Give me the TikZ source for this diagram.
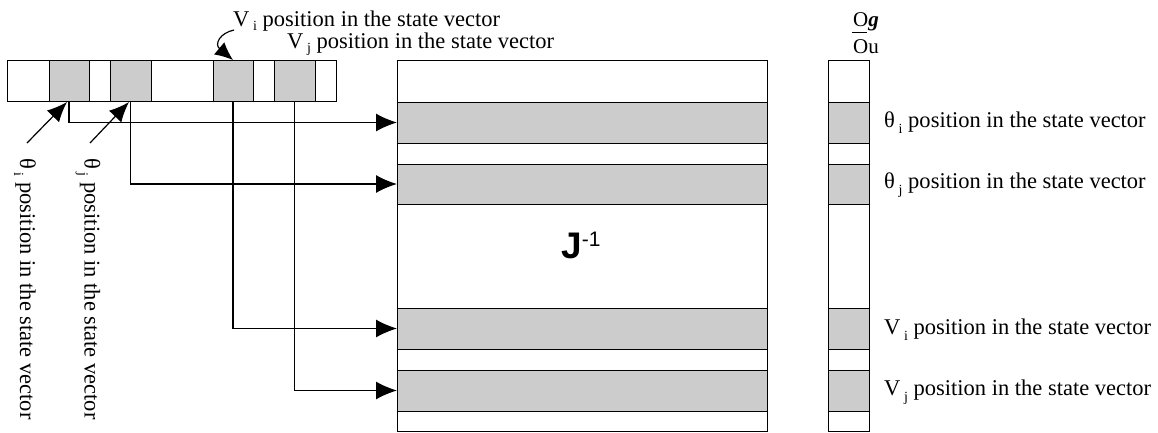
\documentclass[tikz,border=0pt]{standalone}
\usepackage{fontspec}
\setmainfont{Liberation Serif}
\newfontfamily\arialf{Liberation Sans}
\usetikzlibrary{arrows.meta}
\newcommand{\sbi}[1]{\,\raisebox{-6bp}{\fontsize{14bp}{14bp}\selectfont #1}}
\newcommand{\sbt}[1]{\,\raisebox{-4bp}{\fontsize{14bp}{14bp}\selectfont #1}}
\begin{document}
\begin{tikzpicture}[x=1bp,y=-1bp,
  box/.style={draw=black, line width=1bp, fill=white, inner sep=0pt, outer sep=0pt, anchor=north west},
  gbox/.style={box, fill=black!20},
  lab/.style={inner sep=0pt, font=\fontsize{22.5bp}{24bp}\selectfont},
  arr/.style={line width=1.2bp, -{Latex[length=21bp,width=18bp]}},
  arrs/.style={line width=1.2bp, -{Latex[length=20bp,width=17bp]}}]
\useasboundingbox (0,0) rectangle (1158,432);
% top state vector
\node[box, minimum width=329bp, minimum height=41bp] (vec) at (7,60) {};
\node[gbox, minimum width=40bp, minimum height=41bp] (c1) at (49,60) {};
\node[gbox, minimum width=41bp, minimum height=41bp] (c2) at (110,60) {};
\node[gbox, minimum width=40bp, minimum height=41bp] (c3) at (213,60) {};
\node[gbox, minimum width=41bp, minimum height=41bp] (c4) at (274,60) {};
% J^-1 matrix
\node[box, minimum width=370bp, minimum height=371bp] (J) at (397,60) {};
\node[gbox, minimum width=370bp, minimum height=41bp] (b1) at (397,102) {};
\node[gbox, minimum width=370bp, minimum height=40bp] (b2) at (397,164) {};
\node[gbox, minimum width=370bp, minimum height=41bp] (b3) at (397,308) {};
\node[gbox, minimum width=370bp, minimum height=41bp] (b4) at (397,370) {};
\node[inner sep=0pt] (jl) at (581,245) {\arialf\fontsize{37bp}{40bp}\selectfont\bfseries J{\mdseries\fontsize{21bp}{21bp}\selectfont\raisebox{12bp}{-1}}};
% dg/du vector
\node[box, minimum width=41bp, minimum height=371bp] (G) at (828,60) {};
\node[gbox, minimum width=41bp, minimum height=41bp] (g1) at (828,102) {};
\node[gbox, minimum width=41bp, minimum height=40bp] (g2) at (828,164) {};
\node[gbox, minimum width=41bp, minimum height=41bp] (g3) at (828,308) {};
\node[gbox, minimum width=41bp, minimum height=41bp] (g4) at (828,370) {};
\node[inner sep=0pt, anchor=base, font=\fontsize{21bp}{22bp}\selectfont] (dgn) at (866,26) {O\textbf{\textit{g}}};
\node[inner sep=0pt, anchor=base, font=\fontsize{21bp}{22bp}\selectfont] (dgd) at (866,53) {Ou};
\coordinate (fb1) at (852,32);
\coordinate (fb2) at (867,32);
\draw[line width=0.9bp] (fb1) -- (fb2);
% connectors
\draw[arr] (c1.south) |- (b1.west);
\draw[arr] (c2.south) |- (b2.west);
\draw[arr] (c3.south) |- (b3.west);
\draw[arr] (c4.south) |- (b4.west);
% right labels
\node[lab, anchor=west] (l1) at (884,123) {θ\sbi{i} position in the state vector};
\node[lab, anchor=west] (l2) at (884,185) {θ\sbi{j} position in the state vector};
\node[lab, anchor=west] (l3) at (884,330) {V\sbi{i} position in the state vector};
\node[lab, anchor=west] (l4) at (884,392) {V\sbi{j} position in the state vector};
% top labels
\node[lab, anchor=base west] (t1) at (233,26) {V\sbt{i} position in the state vector};
\node[lab, anchor=base west] (t2) at (287,48) {V\sbt{j} position in the state vector};
\coordinate (cv) at (234,30);
\draw[line width=1.2bp, -{Latex[length=18bp,width=16bp]}] (cv) .. controls (220,33) and (214,44) .. (c3.north);
% rotated labels
\node[lab, rotate=-90, anchor=west] (r1) at (25,158) {θ\sbi{i} position in the state vector};
\node[lab, rotate=-90, anchor=west] (r2) at (88,158) {θ\sbi{j} position in the state vector};
\coordinate (d1) at (27,143);
\coordinate (e1) at (67,102);
\coordinate (d2) at (90,143);
\coordinate (e2) at (129,102);
\draw[arrs] (d1) -- (e1);
\draw[arrs] (d2) -- (e2);
\end{tikzpicture}
\end{document}
